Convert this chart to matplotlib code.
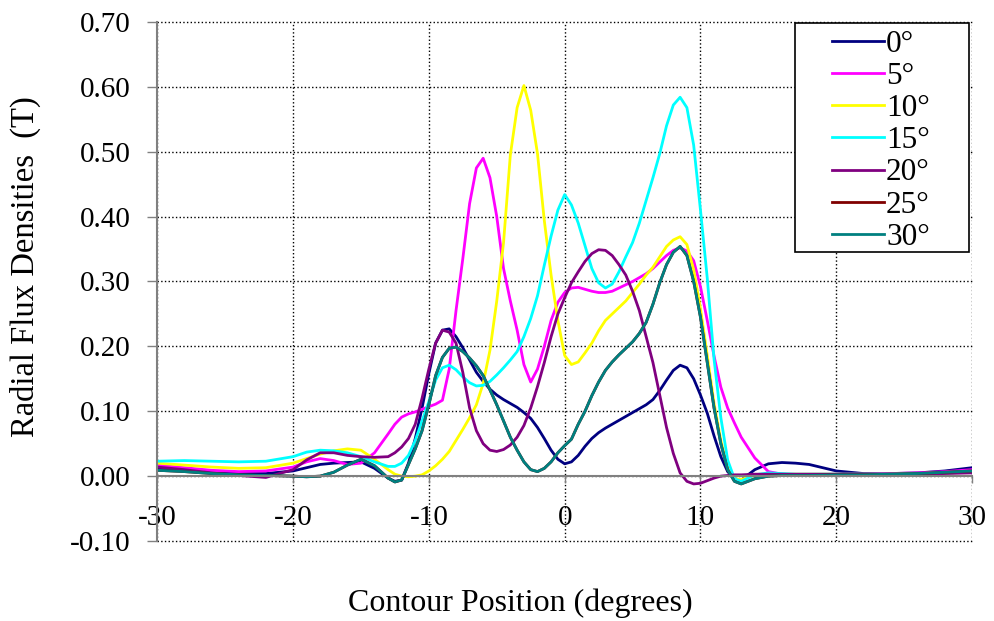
import matplotlib
matplotlib.use("Agg")
import matplotlib.pyplot as plt
from matplotlib.patches import Rectangle
from matplotlib.ticker import FormatStrFormatter

plt.rcParams['font.family'] = ['Liberation Serif', 'DejaVu Serif']
plt.rcParams['axes.unicode_minus'] = False

# contour positions (degrees) where values were read
positions = [-30, -28, -26, -24, -22, -20, -19, -18, -17, -16, -15, -14, -13,
             -12.5, -12, -11.5, -11, -10.5, -10, -9.5, -9, -8.5, -8, -7.5, -7, -6.5,
             -6, -5.5, -5, -4.5, -4, -3.5, -3, -2.5, -2, -1.5, -1, -0.5,
             0, 0.5, 1, 1.5, 2, 2.5, 3, 3.5, 4, 4.5, 5, 5.5, 6, 6.5,
             7, 7.5, 8, 8.5, 9, 9.5, 10, 10.5, 11, 11.5, 12, 12.5, 13,
             14, 15, 16, 17, 18, 20, 22, 24, 26, 28, 30]

b_0 = [0.011, 0.008, 0.005, 0.004, 0.004, 0.008, 0.013, 0.018, 0.020, 0.021, 0.022, 0.012, -0.003,
       -0.008, -0.006, 0.020, 0.058, 0.105, 0.158, 0.205, 0.225, 0.227, 0.215, 0.198, 0.179, 0.160,
       0.146, 0.134, 0.125, 0.118, 0.112, 0.106, 0.098, 0.089, 0.075, 0.058, 0.040, 0.026,
       0.019, 0.022, 0.032, 0.046, 0.058, 0.067, 0.074, 0.080, 0.086, 0.092, 0.098, 0.104, 0.110, 0.118,
       0.132, 0.148, 0.163, 0.171, 0.167, 0.150, 0.125, 0.097, 0.062, 0.030, 0.007, -0.004, -0.006,
       0.010, 0.019, 0.021, 0.020, 0.018, 0.008, 0.004, 0.004, 0.005, 0.008, 0.013]

b_5 = [0.017, 0.013, 0.009, 0.007, 0.008, 0.014, 0.022, 0.027, 0.024, 0.018, 0.020, 0.036, 0.065,
       0.080, 0.091, 0.096, 0.099, 0.103, 0.107, 0.111, 0.117, 0.165, 0.255, 0.335, 0.420, 0.475,
       0.490, 0.460, 0.400, 0.320, 0.270, 0.225, 0.172, 0.145, 0.165, 0.200, 0.240, 0.268,
       0.283, 0.290, 0.291, 0.288, 0.285, 0.283, 0.283, 0.285, 0.290, 0.295, 0.300, 0.306, 0.312, 0.320,
       0.330, 0.340, 0.348, 0.352, 0.347, 0.332, 0.292, 0.240, 0.185, 0.137, 0.105, 0.082, 0.060,
       0.028, 0.007, 0.003, 0.002, 0.002, 0.003, 0.003, 0.004, 0.005, 0.007, 0.010]

b_10 = [0.020, 0.017, 0.014, 0.012, 0.013, 0.020, 0.027, 0.034, 0.039, 0.042, 0.040, 0.026, 0.010,
        0.003, 0.000, -0.001, 0.000, 0.002, 0.008, 0.016, 0.026, 0.038, 0.055, 0.072, 0.090, 0.110,
        0.143, 0.194, 0.270, 0.360, 0.495, 0.568, 0.602, 0.564, 0.497, 0.394, 0.310, 0.240,
        0.186, 0.172, 0.176, 0.190, 0.205, 0.224, 0.240, 0.250, 0.260, 0.270, 0.283, 0.296, 0.310, 0.322,
        0.338, 0.354, 0.364, 0.369, 0.357, 0.318, 0.258, 0.186, 0.112, 0.055, 0.012, -0.004, -0.005,
        0.001, 0.003, 0.003, 0.003, 0.003, 0.003, 0.003, 0.003, 0.004, 0.005, 0.006]

b_15 = [0.023, 0.024, 0.023, 0.022, 0.023, 0.030, 0.037, 0.040, 0.039, 0.036, 0.030, 0.022, 0.015,
        0.015, 0.020, 0.032, 0.055, 0.085, 0.115, 0.148, 0.167, 0.171, 0.164, 0.153, 0.144, 0.139,
        0.140, 0.146, 0.156, 0.167, 0.179, 0.192, 0.215, 0.243, 0.278, 0.325, 0.370, 0.410,
        0.434, 0.418, 0.390, 0.355, 0.320, 0.298, 0.290, 0.296, 0.315, 0.338, 0.360, 0.390, 0.425, 0.460,
        0.497, 0.540, 0.572, 0.584, 0.568, 0.510, 0.410, 0.305, 0.180, 0.090, 0.025, -0.004, -0.008,
        0.002, 0.005, 0.004, 0.003, 0.003, 0.003, 0.003, 0.003, 0.004, 0.005, 0.006]

b_20 = [0.014, 0.010, 0.005, 0.001, -0.002, 0.010, 0.025, 0.036, 0.036, 0.032, 0.030, 0.029, 0.030,
        0.036, 0.045, 0.058, 0.080, 0.120, 0.165, 0.205, 0.225, 0.222, 0.205, 0.160, 0.105, 0.070,
        0.050, 0.040, 0.038, 0.041, 0.048, 0.060, 0.078, 0.105, 0.138, 0.175, 0.215, 0.250,
        0.275, 0.298, 0.315, 0.331, 0.343, 0.349, 0.348, 0.340, 0.326, 0.310, 0.285, 0.255, 0.215, 0.175,
        0.125, 0.075, 0.035, 0.005, -0.008, -0.012, -0.011, -0.007, -0.003, 0.000, 0.001, 0.002, 0.002,
        0.003, 0.003, 0.003, 0.003, 0.003, 0.003, 0.003, 0.003, 0.003, 0.004, 0.005]

b_30 = [0.009, 0.007, 0.004, 0.002, 0.001, 0.000, -0.001, 0.000, 0.006, 0.017, 0.026, 0.016, -0.003,
        -0.009, -0.006, 0.018, 0.042, 0.070, 0.110, 0.155, 0.183, 0.197, 0.199, 0.192, 0.182, 0.170,
        0.155, 0.133, 0.110, 0.085, 0.060, 0.040, 0.022, 0.010, 0.007, 0.012, 0.022, 0.036,
        0.047, 0.057, 0.080, 0.100, 0.124, 0.145, 0.163, 0.176, 0.187, 0.197, 0.207, 0.220, 0.237, 0.265,
        0.298, 0.326, 0.345, 0.354, 0.340, 0.300, 0.245, 0.175, 0.105, 0.050, 0.010, -0.008, -0.012,
        -0.004, 0.000, 0.001, 0.001, 0.001, 0.002, 0.002, 0.003, 0.004, 0.006, 0.008]

# 25 deg lies completely under the 30 deg curve in the picture
b_25 = list(b_30)

labels = ['0°', '5°', '10°', '15°', '20°', '25°', '30°']
colors = ['#000080', '#FF00FF', '#FFFF00', '#00FFFF', '#800080', '#800000', '#008080']
y_ticks = [-0.1, 0.0, 0.1, 0.2, 0.3, 0.4, 0.5, 0.6, 0.7]
x_ticks = [-30, -20, -10, 0, 10, 20, 30]


def make_chart():
    fig = plt.figure(figsize=(9.95, 6.21), dpi=100)
    ax = fig.add_axes([0.158, 0.1288, 0.819, 0.8358])

    series = [b_0, b_5, b_10, b_15, b_20, b_25, b_30]
    for vals, lab, col in zip(series, labels, colors):
        ax.plot(positions, vals, color=col, lw=2.0, label=lab, solid_joinstyle='round')

    ax.set_xlim(-30, 30)
    ax.set_ylim(-0.1, 0.7)
    ax.set_xticks(x_ticks)
    ax.set_yticks(y_ticks)
    ax.yaxis.set_major_formatter(FormatStrFormatter('%.2f'))
    ax.grid(True, color='black', linestyle=':', linewidth=1.0)
    for gl in ax.get_xgridlines() + ax.get_ygridlines():
        gl.set_clip_on(False)
    ax.set_axisbelow(True)

    ax.spines['top'].set_visible(False)
    ax.spines['right'].set_visible(False)
    ax.spines['left'].set_color('#808080')
    ax.spines['left'].set_linewidth(1.5)
    ax.spines['bottom'].set_position(('data', 0))
    ax.spines['bottom'].set_color('#808080')
    ax.spines['bottom'].set_linewidth(1.5)

    ax.tick_params(axis='y', direction='out', length=7, width=1, color='#808080',
                   labelsize=21, pad=12)
    ax.tick_params(axis='x', direction='out', length=5, width=1, color='#808080',
                   labelsize=21, pad=16)

    fig.text(25 / 995, 1 - 267 / 621, 'Radial Flux Densities  (T)', rotation=90,
             ha='center', va='center', fontsize=23.5)
    fig.text(520 / 995, 1 - 603 / 621, 'Contour Position (degrees)',
             ha='center', va='center', fontsize=23)

    # legend box
    fig.add_artist(Rectangle((795 / 995, 1 - 252 / 621), 174 / 995, 229 / 621,
                             transform=fig.transFigure, facecolor='white',
                             edgecolor='black', linewidth=1.2, zorder=4))
    leg = fig.legend(loc='upper left', bbox_to_anchor=(832 / 995, 1 - 30 / 621),
                     frameon=False, fontsize=22.5, handlelength=1.65, handletextpad=0.08,
                     labelspacing=0.1, borderpad=0, borderaxespad=0)
    leg.set_zorder(5)
    for h in leg.get_lines():
        h.set_linewidth(2.0)

    plt.savefig('out.png', dpi=100)


if __name__ == "__main__":
    make_chart()
